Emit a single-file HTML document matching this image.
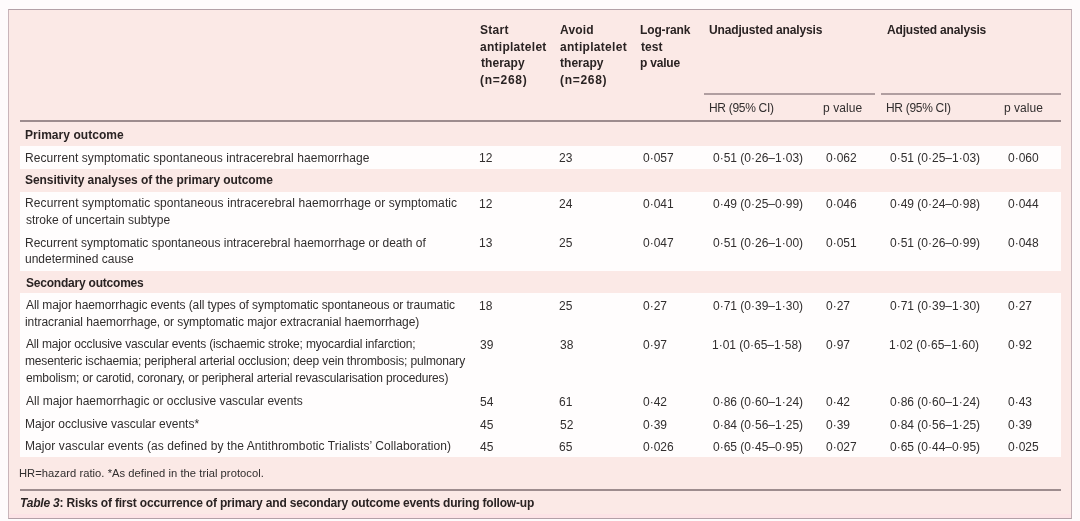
<!DOCTYPE html>
<html><head><meta charset="utf-8"><style>
html,body{margin:0;padding:0;background:#fefbfc;}
body{width:1080px;height:521px;position:relative;overflow:hidden;font-family:"Liberation Sans",sans-serif;}
.p{position:absolute;left:8px;top:9px;width:1062px;height:508px;border:1px solid #b3a0a7;border-left-color:#c9b5ba;border-right-color:#c4b0b6;background:#fbe9e6;}
.w{position:absolute;left:20px;width:1041px;background:#fffdfd;}
.ln{position:absolute;background:#8f7c7e;}
.t{position:absolute;white-space:pre;line-height:1;color:#312e2e;will-change:transform;}
.b{font-weight:bold;color:#2a2323;}
</style></head><body>
<div class="p"></div>
<div style="position:absolute;left:9px;top:514px;width:1062px;height:4px;background:#fce3e6"></div>

<div class="w" style="top:146px;height:22.80000000000001px"></div>
<div class="w" style="top:191.5px;height:79.5px"></div>
<div class="w" style="top:293px;height:164.39999999999998px"></div>
<div class="ln" style="left:704px;top:93px;width:171px;height:1.5px;background:#b09ea0"></div>
<div class="ln" style="left:881px;top:93px;width:180px;height:1.5px;background:#b09ea0"></div>
<div class="ln" style="left:20px;top:120px;width:1041px;height:2px;background:#9d8c8e"></div>
<div class="ln" style="left:20px;top:489px;width:1041px;height:2px;background:#9d8c8e"></div>
<div class="t b" style="left:480.4px;top:23.80px;font-size:12px;letter-spacing:0.270px;">Start</div>
<div class="t b" style="left:480.4px;top:40.60px;font-size:12px;letter-spacing:0.271px;">antiplatelet</div>
<div class="t b" style="left:480.7px;top:57.30px;font-size:12px;letter-spacing:0.043px;">therapy</div>
<div class="t b" style="left:480.2px;top:74.10px;font-size:12px;letter-spacing:0.723px;">(n=268)</div>
<div class="t b" style="left:560.2px;top:23.80px;font-size:12px;letter-spacing:0.175px;">Avoid</div>
<div class="t b" style="left:560.1px;top:40.60px;font-size:12px;letter-spacing:0.307px;">antiplatelet</div>
<div class="t b" style="left:560.4px;top:57.30px;font-size:12px;letter-spacing:0.027px;">therapy</div>
<div class="t b" style="left:559.9px;top:74.10px;font-size:12px;letter-spacing:0.690px;">(n=268)</div>
<div class="t b" style="left:640.3px;top:23.80px;font-size:12px;letter-spacing:-0.131px;">Log-rank</div>
<div class="t b" style="left:641.0px;top:40.60px;font-size:12px;letter-spacing:0.080px;">test</div>
<div class="t b" style="left:640.3px;top:57.30px;font-size:12px;letter-spacing:-0.207px;">p value</div>
<div class="t b" style="left:709.3px;top:23.80px;font-size:12px;letter-spacing:-0.147px;">Unadjusted analysis</div>
<div class="t b" style="left:886.7px;top:23.80px;font-size:12px;letter-spacing:-0.176px;">Adjusted analysis</div>
<div class="t" style="left:708.6px;top:102.20px;font-size:12px;letter-spacing:-0.300px;">HR (95% CI)</div>
<div class="t" style="left:823.2px;top:102.20px;font-size:12px;letter-spacing:0.070px;">p value</div>
<div class="t" style="left:886.1px;top:102.20px;font-size:12px;letter-spacing:-0.300px;">HR (95% CI)</div>
<div class="t" style="left:1004.4px;top:102.20px;font-size:12px;letter-spacing:0.037px;">p value</div>
<div class="t b" style="left:25.2px;top:129.00px;font-size:12px;letter-spacing:0.047px;">Primary outcome</div>
<div class="t b" style="left:25.3px;top:174.20px;font-size:12px;letter-spacing:-0.068px;">Sensitivity analyses of the primary outcome</div>
<div class="t b" style="left:25.6px;top:276.60px;font-size:12px;letter-spacing:-0.214px;">Secondary outcomes</div>
<div class="t" style="left:25.2px;top:151.50px;font-size:12px;letter-spacing:0.072px;">Recurrent symptomatic spontaneous intracerebral haemorrhage</div>
<div class="t" style="left:479.1px;top:152.30px;font-size:12px;">12</div>
<div class="t" style="left:559.4px;top:152.30px;font-size:12px;">23</div>
<div class="t" style="left:643.2px;top:152.30px;font-size:12px;">0·057</div>
<div class="t" style="left:712.5px;top:152.30px;font-size:12px;">0·51 (0·26–1·03)</div>
<div class="t" style="left:826.2px;top:152.30px;font-size:12px;">0·062</div>
<div class="t" style="left:889.5px;top:152.30px;font-size:12px;">0·51 (0·25–1·03)</div>
<div class="t" style="left:1007.7px;top:152.30px;font-size:12px;">0·060</div>
<div class="t" style="left:25.2px;top:197.00px;font-size:12px;letter-spacing:0.099px;">Recurrent symptomatic spontaneous intracerebral haemorrhage or symptomatic</div>
<div class="t" style="left:25.8px;top:213.80px;font-size:12px;">stroke of uncertain subtype</div>
<div class="t" style="left:479.1px;top:197.80px;font-size:12px;">12</div>
<div class="t" style="left:559.4px;top:197.80px;font-size:12px;">24</div>
<div class="t" style="left:643.2px;top:197.80px;font-size:12px;">0·041</div>
<div class="t" style="left:712.5px;top:197.80px;font-size:12px;">0·49 (0·25–0·99)</div>
<div class="t" style="left:826.2px;top:197.80px;font-size:12px;">0·046</div>
<div class="t" style="left:889.5px;top:197.80px;font-size:12px;">0·49 (0·24–0·98)</div>
<div class="t" style="left:1007.7px;top:197.80px;font-size:12px;">0·044</div>
<div class="t" style="left:25.2px;top:236.60px;font-size:12px;">Recurrent symptomatic spontaneous intracerebral haemorrhage or death of</div>
<div class="t" style="left:25.4px;top:253.30px;font-size:12px;">undetermined cause</div>
<div class="t" style="left:479.1px;top:237.40px;font-size:12px;">13</div>
<div class="t" style="left:559.4px;top:237.40px;font-size:12px;">25</div>
<div class="t" style="left:643.2px;top:237.40px;font-size:12px;">0·047</div>
<div class="t" style="left:712.5px;top:237.40px;font-size:12px;">0·51 (0·26–1·00)</div>
<div class="t" style="left:826.2px;top:237.40px;font-size:12px;">0·051</div>
<div class="t" style="left:889.5px;top:237.40px;font-size:12px;">0·51 (0·26–0·99)</div>
<div class="t" style="left:1007.7px;top:237.40px;font-size:12px;">0·048</div>
<div class="t" style="left:26.2px;top:298.70px;font-size:12px;letter-spacing:-0.091px;">All major haemorrhagic events (all types of symptomatic spontaneous or traumatic</div>
<div class="t" style="left:25.4px;top:315.70px;font-size:12px;letter-spacing:-0.064px;">intracranial haemorrhage, or symptomatic major extracranial haemorrhage)</div>
<div class="t" style="left:479.1px;top:299.50px;font-size:12px;">18</div>
<div class="t" style="left:559.4px;top:299.50px;font-size:12px;">25</div>
<div class="t" style="left:643.2px;top:299.50px;font-size:12px;">0·27</div>
<div class="t" style="left:712.5px;top:299.50px;font-size:12px;">0·71 (0·39–1·30)</div>
<div class="t" style="left:826.2px;top:299.50px;font-size:12px;">0·27</div>
<div class="t" style="left:889.5px;top:299.50px;font-size:12px;">0·71 (0·39–1·30)</div>
<div class="t" style="left:1007.7px;top:299.50px;font-size:12px;">0·27</div>
<div class="t" style="left:26.2px;top:338.20px;font-size:12px;letter-spacing:-0.173px;">All major occlusive vascular events (ischaemic stroke; myocardial infarction;</div>
<div class="t" style="left:25.4px;top:355.10px;font-size:12px;letter-spacing:-0.153px;">mesenteric ischaemia; peripheral arterial occlusion; deep vein thrombosis; pulmonary</div>
<div class="t" style="left:25.7px;top:372.00px;font-size:12px;letter-spacing:-0.155px;">embolism; or carotid, coronary, or peripheral arterial revascularisation procedures)</div>
<div class="t" style="left:479.5px;top:339.00px;font-size:12px;">39</div>
<div class="t" style="left:559.5px;top:339.00px;font-size:12px;">38</div>
<div class="t" style="left:643.2px;top:339.00px;font-size:12px;">0·97</div>
<div class="t" style="left:712.1px;top:339.00px;font-size:12px;">1·01 (0·65–1·58)</div>
<div class="t" style="left:826.2px;top:339.00px;font-size:12px;">0·97</div>
<div class="t" style="left:889.1px;top:339.00px;font-size:12px;">1·02 (0·65–1·60)</div>
<div class="t" style="left:1007.7px;top:339.00px;font-size:12px;">0·92</div>
<div class="t" style="left:26.2px;top:395.40px;font-size:12px;">All major haemorrhagic or occlusive vascular events</div>
<div class="t" style="left:479.5px;top:396.20px;font-size:12px;">54</div>
<div class="t" style="left:559.4px;top:396.20px;font-size:12px;">61</div>
<div class="t" style="left:643.2px;top:396.20px;font-size:12px;">0·42</div>
<div class="t" style="left:712.5px;top:396.20px;font-size:12px;">0·86 (0·60–1·24)</div>
<div class="t" style="left:826.2px;top:396.20px;font-size:12px;">0·42</div>
<div class="t" style="left:889.5px;top:396.20px;font-size:12px;">0·86 (0·60–1·24)</div>
<div class="t" style="left:1007.7px;top:396.20px;font-size:12px;">0·43</div>
<div class="t" style="left:25.2px;top:418.00px;font-size:12px;">Major occlusive vascular events*</div>
<div class="t" style="left:479.8px;top:418.80px;font-size:12px;">45</div>
<div class="t" style="left:559.5px;top:418.80px;font-size:12px;">52</div>
<div class="t" style="left:643.2px;top:418.80px;font-size:12px;">0·39</div>
<div class="t" style="left:712.5px;top:418.80px;font-size:12px;">0·84 (0·56–1·25)</div>
<div class="t" style="left:826.2px;top:418.80px;font-size:12px;">0·39</div>
<div class="t" style="left:889.5px;top:418.80px;font-size:12px;">0·84 (0·56–1·25)</div>
<div class="t" style="left:1007.7px;top:418.80px;font-size:12px;">0·39</div>
<div class="t" style="left:25.2px;top:440.30px;font-size:12px;letter-spacing:0.088px;">Major vascular events (as defined by the Antithrombotic Trialists’ Collaboration)</div>
<div class="t" style="left:479.8px;top:441.10px;font-size:12px;">45</div>
<div class="t" style="left:559.4px;top:441.10px;font-size:12px;">65</div>
<div class="t" style="left:643.2px;top:441.10px;font-size:12px;">0·026</div>
<div class="t" style="left:712.5px;top:441.10px;font-size:12px;">0·65 (0·45–0·95)</div>
<div class="t" style="left:826.2px;top:441.10px;font-size:12px;">0·027</div>
<div class="t" style="left:889.5px;top:441.10px;font-size:12px;">0·65 (0·44–0·95)</div>
<div class="t" style="left:1007.7px;top:441.10px;font-size:12px;">0·025</div>
<div class="t" style="left:18.9px;top:468.00px;font-size:11.2px;letter-spacing:0.040px;">HR=hazard ratio. *As defined in the trial protocol.</div>
<div class="t b" style="left:19.6px;top:497.00px;font-size:12px;letter-spacing:-0.186px"><i>Table 3</i>: Risks of first occurrence of primary and secondary outcome events during follow-up</div>
</body></html>
